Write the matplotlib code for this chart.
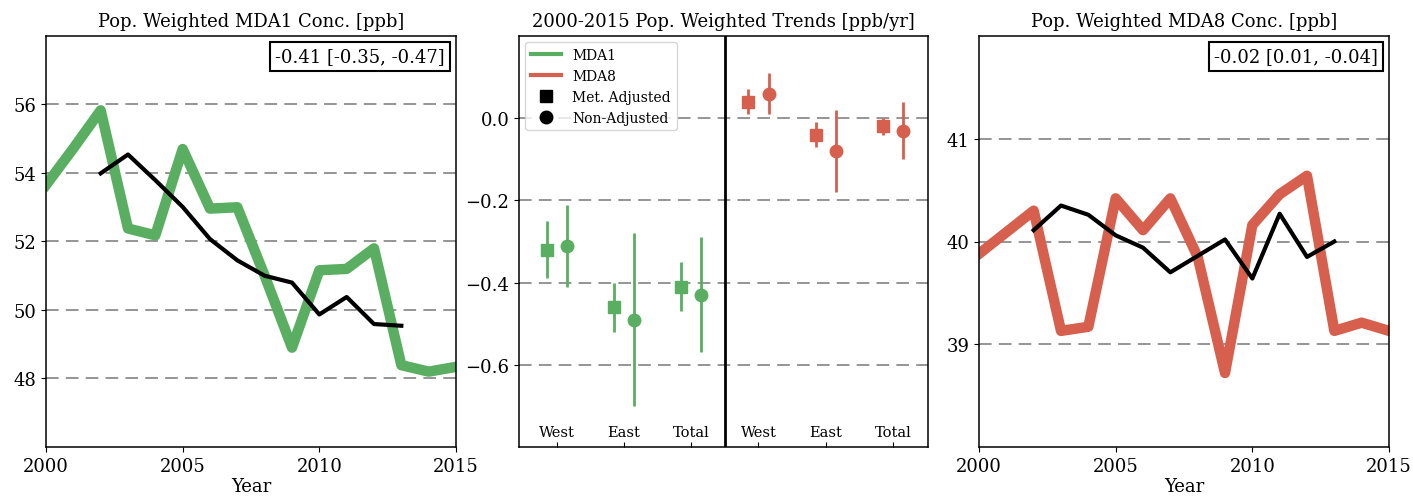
"""Population weighted MDA1 / MDA8 ozone concentrations and trends."""

import matplotlib
matplotlib.use("Agg")
import matplotlib.pyplot as plt
from matplotlib.lines import Line2D

plt.rcParams["font.family"] = "DejaVu Serif"

GREEN = "#5aae61"
RED = "#d6604d"

years = list(range(2000, 2016))
mda1 = [53.65, 54.72, 55.83, 52.38, 52.18, 54.70, 52.96, 53.00,
        51.00, 48.90, 51.16, 51.20, 51.80, 48.39, 48.20, 48.34]
mda8 = [39.88, 40.09, 40.30, 39.13, 39.17, 40.42, 40.11, 40.42,
        39.85, 38.72, 40.16, 40.46, 40.64, 39.13, 39.21, 39.13]

adj_years = list(range(2002, 2014))
mda1_adj = [53.99, 54.54, 53.79, 53.01, 52.07, 51.45,
            51.00, 50.80, 49.87, 50.38, 49.59, 49.54]
mda8_adj = [40.11, 40.35, 40.26, 40.06, 39.94, 39.70,
            39.86, 40.02, 39.64, 40.27, 39.85, 40.00]

regions = ["West", "East", "Total"]
mda1_met = [-0.32, -0.46, -0.41]
mda1_met_lo = [-0.39, -0.52, -0.47]
mda1_met_hi = [-0.25, -0.40, -0.35]
mda1_raw = [-0.31, -0.49, -0.43]
mda1_raw_lo = [-0.41, -0.70, -0.57]
mda1_raw_hi = [-0.21, -0.28, -0.29]
mda8_met = [0.04, -0.04, -0.02]
mda8_met_lo = [0.01, -0.07, -0.04]
mda8_met_hi = [0.07, -0.01, 0.00]
mda8_raw = [0.06, -0.08, -0.03]
mda8_raw_lo = [0.01, -0.18, -0.10]
mda8_raw_hi = [0.11, 0.02, 0.04]


def grid(ax, ticks):
    for t in ticks:
        ax.axhline(t, color="#8c8c8c", ls=(0, (7, 4)), lw=1.3, zorder=0)


def conc_panel(ax, y, yadj, color, ylim, ticks, title, note):
    ax.plot(years, y, color=color, lw=7.5)
    ax.plot(adj_years, yadj, color="black", lw=3)
    grid(ax, ticks)
    ax.set_xlim(2000, 2015)
    ax.set_ylim(*ylim)
    ax.set_yticks(ticks)
    ax.set_xticks([2000, 2005, 2010, 2015])
    ax.set_xlabel("Year", fontsize=13, labelpad=2)
    ax.set_title(title, fontsize=13, pad=7)
    ax.text(0.973, 0.972, note, transform=ax.transAxes, ha="right", va="top",
            fontsize=13, bbox=dict(boxstyle="square,pad=0.3", fc="white",
                                   ec="black", lw=1.5))
    ax.tick_params(labelsize=13)


fig = plt.figure(figsize=(14.13, 5.02), dpi=100)
ax1 = fig.add_axes([46 / 1413, 54 / 502, 410 / 1413, 411 / 502])
ax2 = fig.add_axes([519 / 1413, 54 / 502, 409 / 1413, 411 / 502])
ax3 = fig.add_axes([979 / 1413, 54 / 502, 410 / 1413, 411 / 502])

conc_panel(ax1, mda1, mda1_adj, GREEN, (46, 58), [48, 50, 52, 54, 56],
           "Pop. Weighted MDA1 Conc. [ppb]", "-0.41 [-0.35, -0.47]")
conc_panel(ax3, mda8, mda8_adj, RED, (38, 42), [39, 40, 41],
           "Pop. Weighted MDA8 Conc. [ppb]", "-0.02 [0.01, -0.04]")

# trends panel: MDA1 at 0..2, MDA8 at 3..5
pos1 = [0, 1, 2]
pos8 = [3, 4, 5]
off = 0.15


def trend(ax, pos, vals, lo, hi, color, marker):
    xs = [p + (-off if marker == "s" else off) for p in pos]
    err = [[v - l for v, l in zip(vals, lo)], [h - v for v, h in zip(vals, hi)]]
    ax.errorbar(xs, vals, yerr=err, fmt=marker, color=color, ms=9,
                elinewidth=2, capsize=0, zorder=3)


trend(ax2, pos1, mda1_met, mda1_met_lo, mda1_met_hi, GREEN, "s")
trend(ax2, pos1, mda1_raw, mda1_raw_lo, mda1_raw_hi, GREEN, "o")
trend(ax2, pos8, mda8_met, mda8_met_lo, mda8_met_hi, RED, "s")
trend(ax2, pos8, mda8_raw, mda8_raw_lo, mda8_raw_hi, RED, "o")

grid(ax2, [-0.6, -0.4, -0.2, 0.0])
ax2.axvline(2.5, color="black", lw=2)
ax2.set_xlim(-0.56, 5.52)
ax2.set_ylim(-0.8, 0.2)
ax2.set_yticks([-0.6, -0.4, -0.2, 0.0])
ax2.set_xticks(pos1 + pos8)
ax2.set_xticklabels(regions + regions)
ax2.tick_params(axis="x", direction="in", pad=-16, labelsize=10.5)
ax2.tick_params(axis="y", labelsize=13)
ax2.set_title("2000-2015 Pop. Weighted Trends [ppb/yr]", fontsize=13, pad=7)

handles = [
    Line2D([], [], color=GREEN, lw=3),
    Line2D([], [], color=RED, lw=3),
    Line2D([], [], color="black", marker="s", ls="none", ms=9),
    Line2D([], [], color="black", marker="o", ls="none", ms=9),
]
ax2.legend(handles, ["MDA1", "MDA8", "Met. Adjusted", "Non-Adjusted"],
           loc="upper left", fontsize=10, handlelength=2.2,
           borderaxespad=0.45)

for ax in (ax1, ax2, ax3):
    for s in ax.spines.values():
        s.set_linewidth(1.1)

fig.savefig("out.png", dpi=100)
